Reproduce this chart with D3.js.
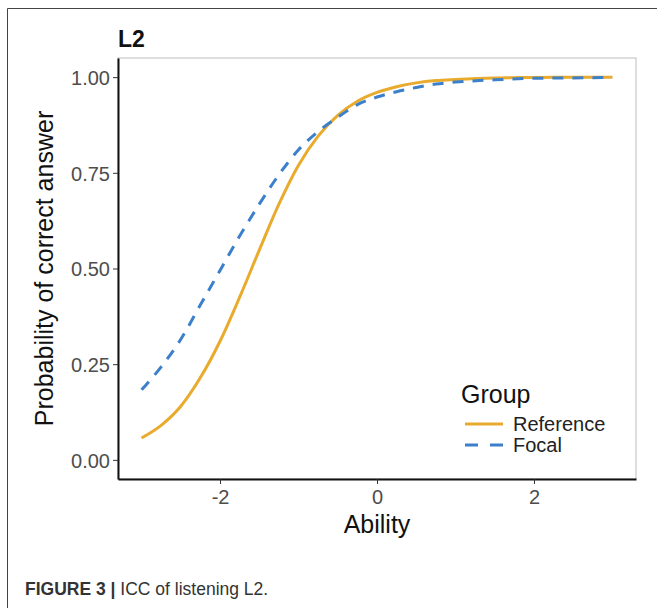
<!DOCTYPE html>
<html>
<head>
<meta charset="utf-8">
<script src="https://cdnjs.cloudflare.com/ajax/libs/d3/7.8.5/d3.min.js"></script>
<style>
  body { margin: 0; background: #fff; }
  svg { display: block; font-family: "Liberation Sans", Arial, sans-serif; }
</style>
</head>
<body>
<svg></svg>
<script>
// values
var ability = [-3, -2.75, -2.5, -2.25, -2, -1.75, -1.5, -1.25, -1, -0.75, -0.5, -0.25,
  0, 0.25, 0.5, 0.75, 1, 1.5, 2, 2.5, 3];
var reference = [0.057, 0.090, 0.140, 0.215, 0.310, 0.425, 0.548, 0.668, 0.770, 0.846, 0.900, 0.937,
  0.960, 0.975, 0.985, 0.991, 0.994, 0.998, 0.999, 0.9997, 1.0];
var focal = [0.183, 0.243, 0.315, 0.405, 0.495, 0.585, 0.668, 0.745, 0.810, 0.858, 0.895, 0.928,
  0.948, 0.962, 0.973, 0.982, 0.987, 0.993, 0.997, 0.998, 0.999];
var groups = ["Reference", "Focal"];
var xTicks = [-2, 0, 2];
var yTicks = [0, 0.25, 0.5, 0.75, 1];

var W = 657, H = 608;
var panel = { left: 118, right: 636, top: 58, bottom: 479 };
var colors = { Reference: "#E9AB2E", Focal: "#3C80CC" };

var svg = d3.select("svg")
  .attr("width", W)
  .attr("height", H);

// outer figure frame (top and left edges only)
svg.append("path")
  .attr("d", "M7.5," + H + "V8.5H" + W)
  .attr("fill", "none")
  .attr("stroke", "#444")
  .attr("stroke-width", 1);

var x = d3.scaleLinear()
  .domain([-3.3, 3.3])
  .range([panel.left, panel.right]);

var y = d3.scaleLinear()
  .domain([-0.05, 1.05])
  .range([panel.bottom, panel.top]);

// light panel border
svg.append("rect")
  .attr("x", panel.left)
  .attr("y", panel.top)
  .attr("width", panel.right - panel.left)
  .attr("height", panel.bottom - panel.top)
  .attr("fill", "none")
  .attr("stroke", "#bdbdbd")
  .attr("stroke-width", 1);

var line = d3.line()
  .x(function(d) { return x(d.a); })
  .y(function(d) { return y(d.p); })
  .curve(d3.curveMonotoneX);

var series = groups.map(function(name) {
  var vals = name === "Reference" ? reference : focal;
  return {
    name: name,
    dash: name === "Focal" ? "11,9" : null,
    values: ability.map(function(a, i) { return { a: a, p: vals[i] }; })
  };
});

svg.selectAll("path.curve")
  .data(series)
  .enter().append("path")
  .attr("class", "curve")
  .attr("d", function(d) { return line(d.values); })
  .attr("fill", "none")
  .attr("stroke", function(d) { return colors[d.name]; })
  .attr("stroke-width", 3)
  .attr("stroke-dasharray", function(d) { return d.dash; });

// x axis
var gx = svg.append("g")
  .attr("transform", "translate(0," + panel.bottom + ")")
  .call(d3.axisBottom(x).tickValues(xTicks).tickSize(5).tickSizeOuter(0)
    .tickFormat(function(d) { return String(d); }));
// y axis
var gy = svg.append("g")
  .attr("transform", "translate(" + panel.left + ",0)")
  .call(d3.axisLeft(y).tickValues(yTicks).tickSize(5).tickSizeOuter(0).tickFormat(d3.format(".2f")));

[gx, gy].forEach(function(g) {
  g.select(".domain").attr("stroke", "#111").attr("stroke-width", 2);
  g.selectAll(".tick line").attr("stroke", "#333").attr("stroke-width", 1);
  g.selectAll(".tick text")
    .attr("fill", "#4d4d4d")
    .attr("font-size", "20px")
    .attr("font-family", "Liberation Sans, Arial, sans-serif");
});
gx.selectAll(".tick text").attr("dy", "1em").attr("y", 5);
gy.selectAll(".tick text").attr("x", -8).attr("dy", "0.36em");

// title
svg.append("text")
  .attr("x", panel.left)
  .attr("y", 47)
  .attr("font-size", "23px")
  .attr("font-weight", "bold")
  .attr("fill", "#111")
  .text("L2");

// axis titles
svg.append("text")
  .attr("x", (panel.left + panel.right) / 2)
  .attr("y", 533)
  .attr("text-anchor", "middle")
  .attr("font-size", "25px")
  .attr("fill", "#111")
  .text("Ability");

svg.append("text")
  .attr("transform", "translate(53," + y(0.5) + ") rotate(-90)")
  .attr("text-anchor", "middle")
  .attr("font-size", "25px")
  .attr("fill", "#111")
  .text("Probability of correct answer");

// legend
var legend = svg.append("g")
  .attr("transform", "translate(461,0)");
legend.append("text")
  .attr("x", 0)
  .attr("y", 403)
  .attr("font-size", "25px")
  .attr("fill", "#111")
  .text("Group");
var item = legend.selectAll("g.item")
  .data(series)
  .enter().append("g")
  .attr("class", "item")
  .attr("transform", function(d, i) { return "translate(0," + (424 + i * 21) + ")"; });
item.append("line")
  .attr("x1", 4)
  .attr("x2", 42)
  .attr("stroke", function(d) { return colors[d.name]; })
  .attr("stroke-width", 3)
  .attr("stroke-dasharray", function(d) { return d.dash ? "13,12" : null; });
item.append("text")
  .attr("x", 52)
  .attr("dy", "0.36em")
  .attr("font-size", "20px")
  .attr("fill", "#222")
  .text(function(d) { return d.name; });

// caption
var cap = svg.append("text")
  .attr("x", 25)
  .attr("y", 595)
  .attr("font-size", "17.5px")
  .attr("fill", "#333");
cap.append("tspan").attr("font-weight", "bold").text("FIGURE 3 |");
cap.append("tspan").text(" ICC of listening L2.");
</script>
</body>
</html>
